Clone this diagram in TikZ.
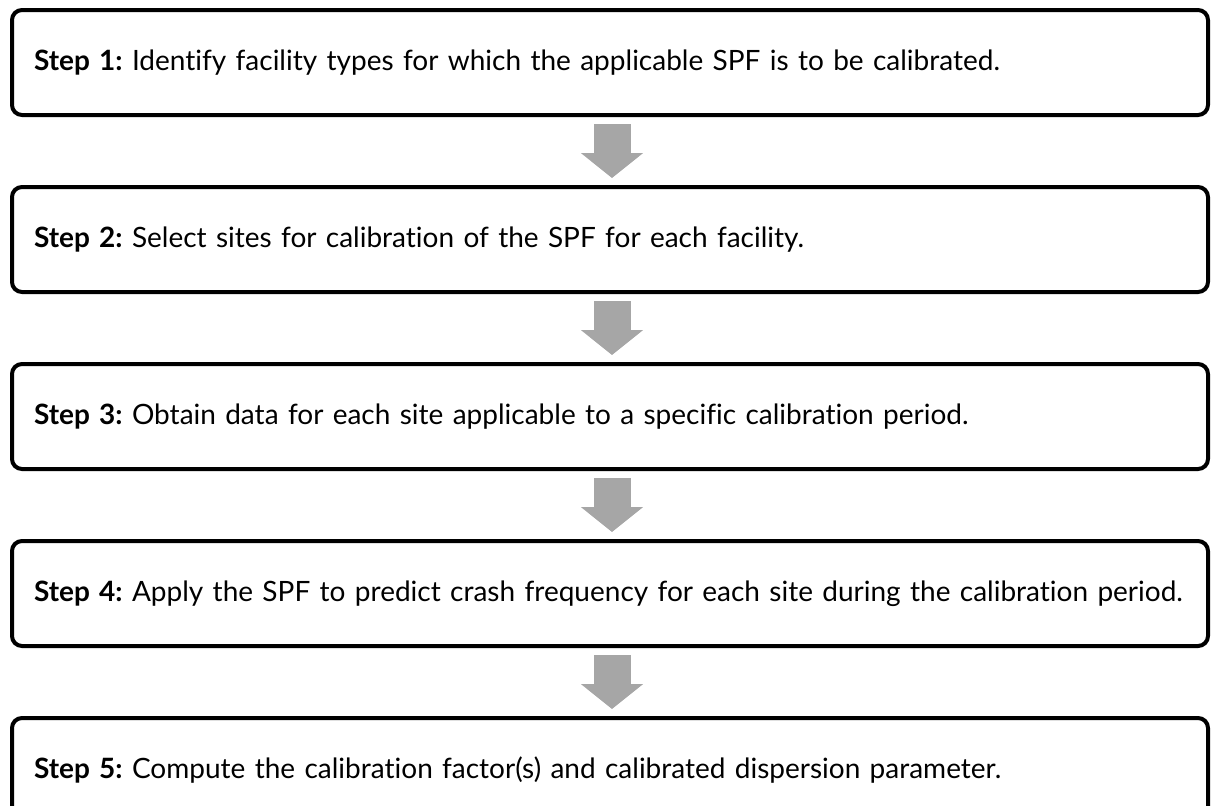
\documentclass[tikz,border=0pt]{standalone}
\usepackage{fontspec}
\setmainfont{Lato}[Ligatures=NoCommon]
\usepackage{tikz}
\usetikzlibrary{arrows.meta,positioning}
\frenchspacing

\begin{document}
\begin{tikzpicture}[
    node distance=34pt,
    stepbox/.style={rectangle, draw, line width=2pt, rounded corners=5pt, fill=white, text width=576pt, inner xsep=11pt, align=left, minimum height=52.5pt, font=\fontsize{14pt}{16pt}\selectfont},
    flow/.style={draw=black!35, line width=18.5pt, -{Triangle[width=30.5pt, length=12.5pt]}, shorten <=3.5pt, shorten >=3.5pt}
]
    \useasboundingbox (0,0) rectangle (606pt,-402.5pt);

    \node [stepbox] (s1) at (305pt,-31.25pt) {\textbf{Step 1:} Identify facility types for which the applicable SPF is to be calibrated.};
    \node [stepbox, below=of s1] (s2) {\textbf{Step 2:} Select sites for calibration of the SPF for each facility.};
    \node [stepbox, below=of s2] (s3) {\textbf{Step 3:} Obtain data for each site applicable to a specific calibration period.};
    \node [stepbox, below=of s3] (s4) {\textbf{Step 4:} Apply the SPF to predict crash frequency for each site during the calibration period.};
    \node [stepbox, below=of s4] (s5) {\textbf{Step 5:} Compute the calibration factor(s) and calibrated dispersion parameter.};

    \foreach \a/\b in {s1/s2, s2/s3, s3/s4, s4/s5}
        \draw [flow] ([xshift=1pt]\a.south) -- ([xshift=1pt]\b.north);
\end{tikzpicture}
\end{document}
